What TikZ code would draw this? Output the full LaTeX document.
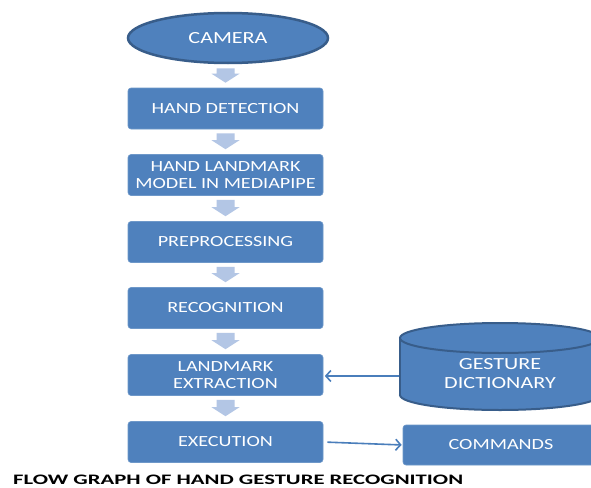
\documentclass[tikz,border=0pt]{standalone}
\usepackage{fontspec}
\setmainfont{Carlito}
\newfontfamily\boxfont[FakeStretch=1.3]{Carlito}
\usetikzlibrary{calc,arrows.meta,shapes.geometric}
\definecolor{boxblue}{HTML}{4F81BD}
\definecolor{edgeblue}{HTML}{385D8A}
\definecolor{lineblue}{HTML}{4A7EBB}
\definecolor{arrowfill}{HTML}{B3C6E5}
\tikzset{
  flowbox/.style={rectangle, rounded corners=3pt, fill=boxblue, draw=lineblue!80!white, line width=0.6pt,
    minimum width=195pt, minimum height=41pt, inner sep=0pt, text=white, align=center,
    font=\boxfont\fontsize{15.5}{17}\selectfont},
  bigtext/.style={text=white, align=center, font=\boxfont\fontsize{17}{19}\selectfont},
  connector/.style={draw=lineblue, line width=1.6pt, -{Straight Barb[length=5pt,width=11pt]}},
}
\newcommand\blockarr[2]{%
  \fill[arrowfill] let \p1=(#1.south), \p2=(#2.north) in
  (\x2-9pt,\y1-4pt) -- (\x2+9pt,\y1-4pt) -- (\x2+9pt,\y2+14pt) -- (\x2+14pt,\y2+14pt)
  -- (\x2,\y2+5pt) -- (\x2-14pt,\y2+14pt) -- (\x2-9pt,\y2+14pt) -- cycle;}
\begin{document}
\begin{tikzpicture}[x=1pt,y=-1pt]
\useasboundingbox (0,0) rectangle (591,487);
\fill[white] (0,0) rectangle (591,487);
% camera
\node[ellipse, fill=boxblue, draw=edgeblue, line width=2.5pt, minimum width=200pt, minimum height=50pt,
  inner sep=0pt, bigtext] (cam) at (228,38) {CAMERA};
\node[flowbox] (hd) at (225.5,108.5) {HAND DETECTION};
\node[flowbox] (hlm) at (225.5,175) {HAND LANDMARK\\MODEL IN MEDIAPIPE};
\node[flowbox] (pre) at (225.5,242) {PREPROCESSING};
\node[flowbox] (rec) at (225.5,308) {RECOGNITION};
\node[flowbox] (lme) at (225.5,375) {LANDMARK\\EXTRACTION};
\node[flowbox] (exe) at (225.5,442) {EXECUTION};
\node[flowbox, minimum width=196pt, minimum height=40pt] (cmd) at (501,445) {COMMANDS};
% cylinder
\filldraw[fill=boxblue, draw=edgeblue, line width=2pt] (500,395) ellipse (100 and 15);
\fill[boxblue] (400,338) rectangle (600,395);
\draw[edgeblue, line width=2pt] (400,338) -- (400,395) (600,338) -- (600,395);
\filldraw[fill=boxblue, draw=edgeblue, line width=2pt] (500,338) ellipse (100 and 15);
\coordinate (gdw) at (399,376);
\node[bigtext] (gd) at (500,374) {GESTURE\\DICTIONARY};
% block arrows
\blockarr{cam}{hd}
\blockarr{hd}{hlm}
\blockarr{hlm}{pre}
\blockarr{pre}{rec}
\blockarr{rec}{lme}
\blockarr{lme}{exe}
% connectors
\draw[connector, shorten >=1.5pt] (gdw) -- (lme.east |- gdw);
\draw[connector, shorten <=4pt, shorten >=1pt] (exe.east) -- (cmd.west);
% title
\node[anchor=base west, inner sep=0pt] (title) at (13,484)
  {\resizebox{450pt}{9.5pt}{\bfseries FLOW GRAPH OF HAND GESTURE RECOGNITION}};
\end{tikzpicture}
\end{document}
